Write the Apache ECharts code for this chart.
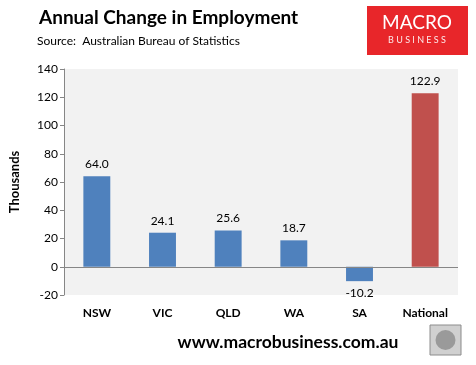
<!DOCTYPE html>
<html><head><meta charset="utf-8">
<script src="https://cdn.jsdelivr.net/npm/echarts@6/dist/echarts.min.js"></script>
<style>html,body{margin:0;padding:0;background:#fff}#c{width:476px;height:365px}</style>
</head><body><div id="c"></div>
<script>
const categories = ['NSW', 'VIC', 'QLD', 'WA', 'SA', 'National'];
const values = [64.0, 24.1, 25.6, 18.7, -10.2, 122.9];
const barColors = ['#4F81BD', '#4F81BD', '#4F81BD', '#4F81BD', '#4F81BD', '#C0504D'];
const yTicks = { min: -20, max: 140, interval: 20 };

const F = 'Lato, "Open Sans", sans-serif';
const chart = echarts.init(document.getElementById('c'), null, { renderer: 'canvas' });
chart.setOption({
  animation: false,
  backgroundColor: '#fff',
  grid: { left: 60, right: 18, top: 69, bottom: 70, show: true, backgroundColor: '#F2F2F2', borderWidth: 0 },
  xAxis: {
    type: 'category', data: categories,
    axisLine: { show: false }, axisTick: { show: false },
    axisLabel: { show: true, fontFamily: F, fontWeight: 'bold', fontSize: 12, color: '#000', margin: 12, interval: 0 }
  },
  yAxis: {
    type: 'value', min: yTicks.min, max: yTicks.max, interval: yTicks.interval,
    name: 'Thousands', nameLocation: 'middle', nameGap: 43, nameRotate: 90,
    nameTextStyle: { fontFamily: F, fontWeight: 'bold', fontSize: 13, color: '#000' },
    axisLine: { show: true, lineStyle: { color: '#868686' } },
    axisTick: { show: true, length: 4, lineStyle: { color: '#868686' } },
    axisLabel: { fontFamily: F, fontSize: 12, color: '#000', margin: 6 },
    splitLine: { show: false }
  },
  series: [{
    type: 'bar', barWidth: '41%',
    data: values.map((v, i) => ({
      value: v,
      itemStyle: { color: barColors[i] },
      label: { position: v < 0 ? 'bottom' : 'top' }
    })),
    label: { show: true, fontFamily: F, fontSize: 12, color: '#000', distance: 6, formatter: p => p.value.toFixed(1) },
    markLine: {
      silent: true, symbol: 'none', label: { show: false },
      lineStyle: { color: '#868686', type: 'solid', width: 1 },
      data: [{ yAxis: 0 }]
    }
  }],
  graphic: [
    { type: 'text', left: 39, top: 8, style: { text: 'Annual Change in Employment', font: 'bold 19px ' + F, fill: '#000' } },
    { type: 'text', left: 37, top: 35, style: { text: 'Source:  Australian Bureau of Statistics', font: '12px ' + F, fill: '#000' } },
    { type: 'rect', shape: { x: 367, y: 6, width: 101, height: 49 }, style: { fill: '#E8262A' } },
    { type: 'text', style: { x: 417, y: 23, text: 'MACRO', font: '19px ' + F, fill: '#fff', align: 'center', verticalAlign: 'middle' } },
    { type: 'text', style: { x: 417, y: 40, text: 'B U S I N E S S', font: '9px ' + F, fill: '#fff', align: 'center', verticalAlign: 'middle', opacity: 0.9 } },
    { type: 'text', style: { x: 288, y: 342, text: 'www.macrobusiness.com.au', font: 'bold 17.5px ' + F, fill: '#000', align: 'center', verticalAlign: 'middle' } },
    { type: 'rect', shape: { x: 430, y: 325, width: 31, height: 30 }, style: { fill: '#D0D0D0', stroke: '#8C8C8C', lineWidth: 1 } },
    { type: 'circle', shape: { cx: 445.5, cy: 340, r: 10 }, style: { fill: '#9A9A9A' } }
  ]
});
</script></body></html>
